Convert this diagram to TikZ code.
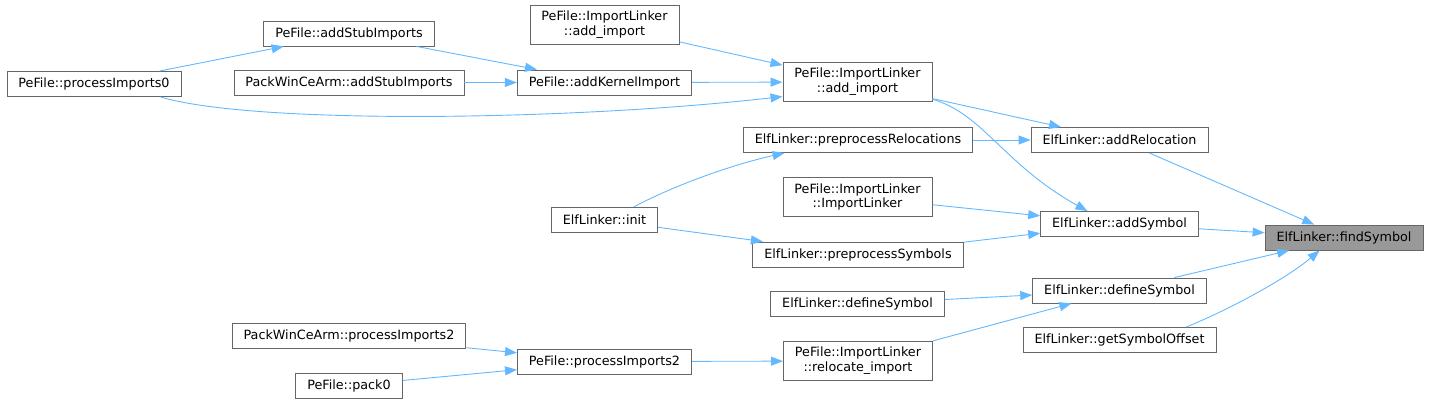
\documentclass[tikz,border=0pt]{standalone}
\usepackage{fontspec}
\setmainfont{DejaVu Sans}
\usetikzlibrary{arrows.meta}
\definecolor{edgeblue}{HTML}{63B8FF}
\definecolor{boxgray}{HTML}{666666}
\definecolor{selgray}{HTML}{999999}

\begin{document}
\begin{tikzpicture}[x=1bp,y=-1bp,
  fn/.style={draw=boxgray,fill=white,line width=0.9bp,inner xsep=11.5bp,inner ysep=6bp,
    minimum height=25bp,align=center,font=\fontsize{12.8}{15}\selectfont},
  cur/.style={fn,fill=selgray},
  call/.style={draw=edgeblue,line width=0.9bp,-{Triangle[length=12bp,width=9bp]}}]
  \useasboundingbox (0,0) rectangle (1429,403);

  % Callers, far left
  \node[fn] (pi0) at (94,84) {PeFile::processImports0};

  \node[fn] (stub) at (349,33.5) {PeFile::addStubImports};
  \node[fn] (winStub) at (349,82.5) {PackWinCeArm::addStubImports};
  \node[fn] (winProc2) at (349,336) {PackWinCeArm::processImports2};
  \node[fn] (pack0) at (349,385.5) {PeFile::pack0};

  \node[fn] (addImpTop) at (604.5,25) {PeFile::ImportLinker\\::add\_import};
  \node[fn] (kernel) at (604.5,82.5) {PeFile::addKernelImport};
  \node[fn] (init) at (604.5,220) {ElfLinker::init};
  \node[fn] (proc2) at (604.5,361.5) {PeFile::processImports2};

  \node[fn] (addImp) at (857.5,82) {PeFile::ImportLinker\\::add\_import};
  \node[fn] (preRel) at (858,140) {ElfLinker::preprocessRelocations};
  \node[fn] (linker) at (857.5,197) {PeFile::ImportLinker\\::ImportLinker};
  \node[fn] (preSym) at (858,254.5) {ElfLinker::preprocessSymbols};
  \node[fn] (defL) at (857.5,304) {ElfLinker::defineSymbol};
  \node[fn] (reloc) at (858,361) {PeFile::ImportLinker\\::relocate\_import};

  \node[fn] (addRel) at (1119.5,140) {ElfLinker::addRelocation};
  \node[fn] (addSym) at (1119.5,224) {ElfLinker::addSymbol};
  \node[fn] (defR) at (1119.5,290.5) {ElfLinker::defineSymbol};
  \node[fn] (gso) at (1119.5,340) {ElfLinker::getSymbolOffset};

  % The function itself
  \node[cur] (find) at (1344,237.5) {ElfLinker::findSymbol};

  % Calls into findSymbol
  \draw[call] (addRel) -- (find);
  \draw[call] (addSym) -- (find);
  \draw[call] (defR) -- (find);
  \draw[call] (gso.11) .. controls +(42,-17) and +(-34.5,29) .. (find.-152);

  % Next column
  \draw[call] (addImp) -- (addRel);
  \draw[call] (preRel) -- (addRel);
  \draw[call] (addImp.-13) .. controls +(50,14) and +(-83,-46) .. (addSym.158);
  \draw[call] (linker) -- (addSym);
  \draw[call] (preSym) -- (addSym);
  \draw[call] (defL) -- (defR);
  \draw[call] (reloc) -- (defR);

  \draw[call] (addImpTop) -- (addImp);
  \draw[call] (kernel) -- (addImp);
  \draw[call] (pi0.-11) .. controls +(89,27) and +(-222,25) .. (addImp.-169);
  \draw[call] (init.24) .. controls +(44,-23.5) and +(-49,11) .. (preRel.-170);
  \draw[call] (init) -- (preSym);
  \draw[call] (proc2) -- (reloc);

  \draw[call] (stub) -- (kernel);
  \draw[call] (winStub) -- (kernel);
  \draw[call] (winProc2) -- (proc2);
  \draw[call] (pack0) -- (proc2);

  \draw[call] (pi0) -- (stub);
\end{tikzpicture}
\end{document}
